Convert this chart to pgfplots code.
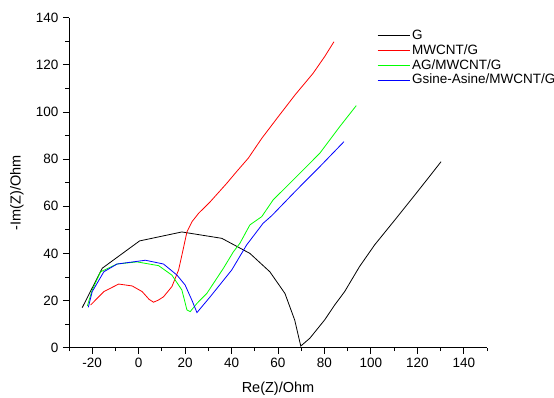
\documentclass[border=0pt]{standalone}
\usepackage{fontspec}
\setmainfont{Liberation Sans}
\usepackage{pgfplots}
\pgfplotsset{compat=1.18}
\definecolor{cgreen}{RGB}{0,255,0}
\definecolor{cred}{RGB}{255,0,0}
\definecolor{cblue}{RGB}{0,0,255}
\begin{document}
\fontsize{13.5}{16}\selectfont
\begin{tikzpicture}
\begin{axis}[
  at={(0,0)}, anchor=south west,
  scale only axis, width=418pt, height=330pt,
  xmin=-30, xmax=150, ymin=0, ymax=140,
  axis lines*=left,
  axis line style={black, line width=0.8pt},
  xtick={-20,0,...,140}, minor xtick={-30,-10,...,150},
  ytick={0,20,...,140}, minor ytick={10,30,...,130},
  tick align=outside,
  major tick length=6pt, minor tick length=3.5pt,
  every tick/.style={black, line width=0.8pt},
  /pgf/number format/assume math mode=true,
  tick label style={font=\fontsize{13.5}{16}\selectfont},
  xlabel={Re(Z)/Ohm},
  ylabel={-Im(Z)/Ohm},
  label style={font=\fontsize{14.5}{17}\selectfont},
  xlabel style={at={(axis description cs:0.5,0)}, anchor=center, yshift=-41pt},
  ylabel style={at={(axis description cs:-0.1244,0.469)}, anchor=center},
  legend style={at={(axis description cs:0.7296,0.975)}, anchor=north west, draw=none, fill=none,
    font=\fontsize{13.5}{15}\selectfont, row sep=-1pt},
  legend cell align=left,
  legend image code/.code={\draw[#1, line width=1pt] (0pt,0pt) -- (32pt,0pt);},
  clip=false,
]
\addplot[black, line width=0.8pt] coordinates {
(-24.3,17) (-15.7,33.7) (0.4,45.3) (18.6,49.1) (35.8,46.4) (47.9,40) (56.5,32.2) (63,23) (67.2,11.7) (69.8,0.7)
(73.7,4) (80.1,11.8) (84.4,18.1) (88.7,23.8) (95.1,34.4) (101.6,43.6) (110.9,54.9) (119.5,65.5) (125.2,72.6) (130.2,78.9)};
\addlegendentry{G}
\addplot[cred, line width=0.8pt] coordinates {
(-20.7,18.1) (-15,23.8) (-8.6,27) (-2.8,26.2) (1.5,23.8) (4.5,20.5) (6.4,19.3) (8.5,20.2) (10.7,21.6) (14.3,25.9) (17.2,33) (19,41) (20.8,49.2) (23,53.5) (25.8,57) (30.8,61.9) (37.9,69.7) (42,74.5) (47.2,80.4) (53,88.8) (60.1,98) (67.3,107.2) (75.1,116.4) (80.1,123.5) (84.1,129.8)};
\addlegendentry{MWCNT/G}
\addplot[cgreen, line width=0.8pt] coordinates {
(-22.1,17.7) (-20,24.5) (-16.4,32.2) (-9.3,35.5) (-0.7,36.4) (8.6,34.8) (14.3,30.8) (18.6,24.5) (20.8,16) (22.2,15.3) (25.1,18.8) (29.4,23.1) (36.5,33.7) (40.8,40.7) (43.6,44.3) (47.9,52.1) (53,55.6) (57.9,62.7) (68,72.6) (78,82.5) (86.6,93.8) (93.7,102.7)};
\addlegendentry{AG/MWCNT/G}
\addplot[cblue, line width=0.8pt] coordinates {
(-21.7,17.1) (-20,23.8) (-15,32.2) (-9.3,35.5) (2.9,37.1) (10.7,35.5) (16.5,30.8) (20,26.6) (22.9,20.2) (25.1,14.9) (30.8,21.6) (40.1,33) (46.5,43.6) (53.6,52.8) (57.3,56) (68,66.9) (78,76.8) (88.4,87.4)};
\addlegendentry{Gsine-Asine/MWCNT/G}
\end{axis}
\pgfresetboundingbox
\useasboundingbox (-69pt,-50.3pt) rectangle (485pt,347.7pt);
\end{tikzpicture}
\end{document}
